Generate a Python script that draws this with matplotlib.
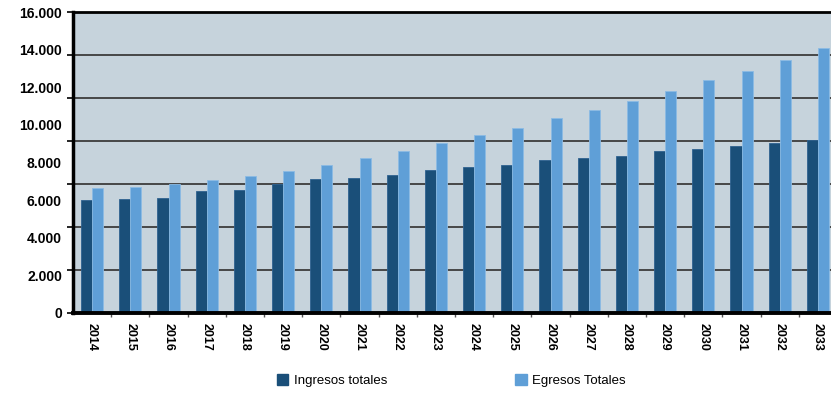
import numpy as np
import matplotlib.pyplot as plt
import matplotlib.ticker as mticker
from matplotlib.patches import Patch

plt.rcParams["font.family"] = ["Liberation Sans", "DejaVu Sans"]

# ── Data ───────────────────────────────────────────────────────────────────
years = [str(y) for y in range(2014, 2034)]
ingresos = [6000, 6060, 6110, 6490, 6560, 6840, 7110, 7190, 7320, 7620,
            7750, 7870, 8130, 8240, 8350, 8600, 8720, 8860, 9040, 9180]
egresos = [6630, 6720, 6880, 7070, 7280, 7550, 7870, 8220, 8590, 9020,
           9480, 9850, 10350, 10770, 11270, 11820, 12370, 12870, 13430, 14070]
y_labels = [0, 2000, 4000, 6000, 8000, 10000, 12000, 14000, 16000]

DARK = "#1a4f79"
LIGHT = "#5f9fd7"
BG = "#c6d3dc"

# ── Plot ───────────────────────────────────────────────────────────────────
fig = plt.figure(figsize=(8.31, 3.93), dpi=100)
ax = fig.add_axes([73 / 831, 80 / 393, 764 / 831, 301 / 393])
ax.set_facecolor(BG)

x = np.arange(len(years))
w = 0.29
ax.bar(x - w / 2, ingresos, w, color=DARK, edgecolor="#2f6290", linewidth=0.6, zorder=2)
ax.bar(x + w / 2, egresos, w, color=LIGHT, edgecolor="#8bbbe4", linewidth=0.6, zorder=2)

ax.set_xlim(-0.5, len(years) - 0.5)
ax.set_ylim(0, 16000)

# gridlines / tick marks split the axis in 7 parts, labels run every 2.000
ax.yaxis.remove_overlapping_locs = False
ax.yaxis.set_major_locator(mticker.FixedLocator(np.linspace(0, 16000, 8)))
ax.yaxis.set_major_formatter(mticker.NullFormatter())
ax.yaxis.set_minor_locator(mticker.FixedLocator(y_labels))
ax.yaxis.set_minor_formatter(mticker.FuncFormatter(lambda v, _: f"{v:,.0f}".replace(",", ".")))
ax.tick_params(axis="y", which="major", length=4, width=1.2, color="black")
ax.tick_params(axis="y", which="minor", length=0, pad=8, labelsize=10)
for lab in ax.get_yticklabels(minor=True):
    lab.set_fontweight("bold")
ax.grid(axis="y", which="major", color="#3c3c3c", linewidth=1.3, zorder=1)

ax.xaxis.set_major_locator(mticker.FixedLocator(x[1:] - 0.5))
ax.xaxis.set_major_formatter(mticker.NullFormatter())
ax.xaxis.set_minor_locator(mticker.FixedLocator(x))
ax.xaxis.set_minor_formatter(mticker.FixedFormatter(years))
ax.tick_params(axis="x", which="major", length=3, width=1, color="#555555")
ax.tick_params(axis="x", which="minor", length=0, pad=7, labelsize=9)
for lab in ax.get_xticklabels(minor=True):
    lab.set_fontweight("bold")
    lab.set_rotation(-90)
    lab.set_va("top")

ax.spines["right"].set_visible(False)
ax.spines["left"].set_linewidth(2.5)
ax.spines["bottom"].set_linewidth(2.8)
ax.spines["top"].set_linewidth(2)
for sp in ax.spines.values():
    sp.set_zorder(4)

handles = [Patch(color=DARK, label="Ingresos totales"),
           Patch(color=LIGHT, label="Egresos Totales")]
fig.legend(handles=handles, loc="center", bbox_to_anchor=(0.543, 0.032), ncol=2,
           frameon=False, fontsize=9.5, handlelength=0.9, handleheight=0.9,
           handletextpad=0.4, columnspacing=9.7)

plt.savefig("out.png", dpi=100)
plt.close()
